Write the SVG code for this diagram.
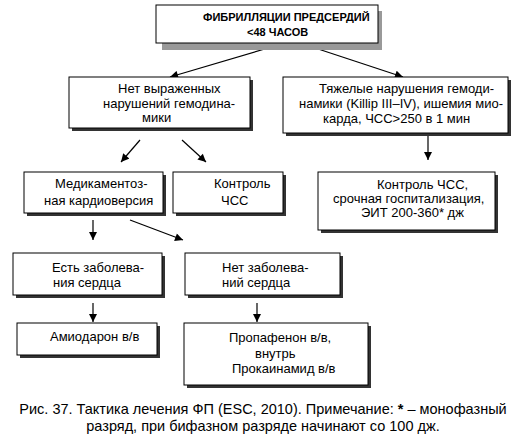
<svg xmlns="http://www.w3.org/2000/svg" width="527" height="438" viewBox="0 0 527 438">
<style>
.box{fill:#fff;stroke:#000;stroke-width:1}
.sh{fill:#333}
.t{font-family:"Liberation Sans",Arial,sans-serif;font-size:13px;fill:#000}
.tb{font-family:"Liberation Sans",Arial,sans-serif;font-size:11px;font-weight:bold;fill:#000}
.cap{font-family:"Liberation Sans",Arial,sans-serif;font-size:14.5px;fill:#000}
.c{stroke:#000;stroke-width:1.2;fill:none}
</style>
<defs>
<marker id="ah" viewBox="0 0 10 10" refX="10" refY="5" markerWidth="9" markerHeight="8" markerUnits="userSpaceOnUse" orient="auto">
<path d="M0,0 L10,5 L0,10 z" fill="#000"/>
</marker>
</defs>
<rect width="527" height="438" fill="#fff"/>
<g id="connectors">
<line class="c" x1="285" y1="43" x2="170" y2="77" marker-end="url(#ah)"/>
<line class="c" x1="300" y1="43" x2="403" y2="77" marker-end="url(#ah)"/>
<line class="c" x1="140" y1="140" x2="121" y2="162" marker-end="url(#ah)"/>
<line class="c" x1="182" y1="140" x2="206" y2="162" marker-end="url(#ah)"/>
<line class="c" x1="428" y1="133" x2="428" y2="160" marker-end="url(#ah)"/>
<line class="c" x1="93" y1="220" x2="93" y2="240" marker-end="url(#ah)"/>
<line class="c" x1="130" y1="220" x2="183" y2="240" marker-end="url(#ah)"/>
<line class="c" x1="93" y1="303" x2="93" y2="322" marker-end="url(#ah)"/>
<line class="c" x1="257" y1="303" x2="257" y2="322" marker-end="url(#ah)"/>
</g>
<g id="n-top">
<rect x="162" y="11" width="220" height="39" fill="#999"/>
<rect class="box" x="156" y="5" width="222" height="38"/>
<text class="tb" x="203" y="21">ФИБРИЛЛЯЦИИ ПРЕДСЕРДИЙ</text>
<text class="tb" x="247" y="36">&lt;48 ЧАСОВ</text>
</g>
<g id="n-nohemo">
<rect class="sh" x="72" y="80" width="181" height="51"/>
<rect class="box" x="69" y="77" width="181" height="51"/>
<text class="t" x="118" y="93">Нет выраженных</text>
<text class="t" x="103" y="108">нарушений гемодина-</text>
<text class="t" x="142" y="122">мики</text>
</g>
<g id="n-severe">
<rect class="sh" x="286" y="80" width="225" height="56"/>
<rect class="box" x="283" y="77" width="225" height="56"/>
<text class="t" x="319" y="93">Тяжелые нарушения гемоди-</text>
<text class="t" x="299" y="108">намики (Killip III–IV), ишемия мио-</text>
<text class="t" x="323" y="123">карда, ЧСС&gt;250 в 1 мин</text>
</g>
<g id="n-medcv">
<rect class="sh" x="27" y="175" width="139" height="41"/>
<rect class="box" x="24" y="172" width="139" height="41"/>
<text class="t" x="55" y="188">Медикаментоз-</text>
<text class="t" x="44" y="205">ная кардиоверсия</text>
</g>
<g id="n-rate">
<rect class="sh" x="176" y="175" width="110" height="41"/>
<rect class="box" x="173" y="172" width="110" height="41"/>
<text class="t" x="214" y="188">Контроль</text>
<text class="t" x="221" y="205">ЧСС</text>
</g>
<g id="n-urgent">
<rect class="sh" x="321" y="175" width="177" height="58"/>
<rect class="box" x="318" y="172" width="177" height="58"/>
<text class="t" x="377" y="189">Контроль ЧСС,</text>
<text class="t" x="333" y="203">срочная госпитализация,</text>
<text class="t" x="361" y="217">ЭИТ 200-360* дж</text>
</g>
<g id="n-heart">
<rect class="sh" x="16" y="256" width="149" height="42"/>
<rect class="box" x="13" y="253" width="149" height="42"/>
<text class="t" x="52" y="272">Есть заболева-</text>
<text class="t" x="53" y="287">ния сердца</text>
</g>
<g id="n-noheart">
<rect class="sh" x="188" y="256" width="155" height="42"/>
<rect class="box" x="185" y="253" width="155" height="42"/>
<text class="t" x="222" y="272">Нет заболева-</text>
<text class="t" x="222" y="287">ний сердца</text>
</g>
<g id="n-amio">
<rect class="sh" x="20" y="326" width="140" height="32"/>
<rect class="box" x="17" y="323" width="140" height="32"/>
<text class="t" x="50" y="341">Амиодарон в/в</text>
</g>
<g id="n-propa">
<rect class="sh" x="187" y="326" width="184" height="62"/>
<rect class="box" x="184" y="323" width="184" height="62"/>
<text class="t" x="229" y="342">Пропафенон в/в,</text>
<text class="t" x="255" y="358">внутрь</text>
<text class="t" x="232" y="373">Прокаинамид в/в</text>
</g>
<g id="caption">
<text class="cap" x="263" y="414" text-anchor="middle">Рис. 37. Тактика лечения ФП (ESC, 2010). Примечание: <tspan font-weight="bold">*</tspan> – монофазный</text>
<text class="cap" x="263" y="431" text-anchor="middle">разряд, при бифазном разряде начинают со 100 дж.</text>
</g>
</svg>
